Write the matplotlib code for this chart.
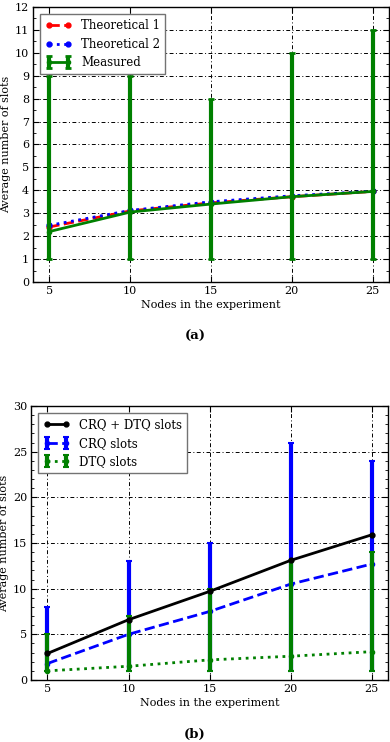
import matplotlib.pyplot as plt
import numpy as np
from matplotlib.ticker import MultipleLocator

plt.rcParams['font.family'] = 'DejaVu Serif'
plt.rcParams['font.size'] = 8

nodes = [5, 10, 15, 20, 25]

# (a) average slots
theo1 = [2.4, 3.1, 3.45, 3.72, 3.95]
theo2 = [2.47, 3.12, 3.5, 3.76, 3.96]
measured = [2.2, 3.05, 3.4, 3.72, 3.95]
measured_min = [1, 1, 1, 1, 1]
measured_max = [9, 9, 8, 10, 11]

# (b) CRQ / DTQ breakdown
total = [2.9, 6.6, 9.7, 13.1, 15.9]
crq = [1.8, 5.0, 7.5, 10.5, 12.7]
crq_min = [1, 1, 1, 1, 1]
crq_max = [8, 13, 15, 26, 24]
dtq = [1.0, 1.5, 2.2, 2.6, 3.1]
dtq_min = [1, 1, 1, 1, 1]
dtq_max = [5, 7, 10, 13, 14]


def yerr(vals, lo, hi):
    vals = np.array(vals)
    return [vals - np.array(lo), np.array(hi) - vals]


def style_axes(ax):
    ax.tick_params(which='both', direction='in', top=True, right=True, pad=3)
    ax.tick_params(which='major', length=4)
    ax.tick_params(which='minor', length=2)
    ax.grid(True, color='black', linestyle=(0, (4, 2.5, 1, 2.5)), linewidth=0.7)
    ax.set_axisbelow(False)
    for s in ax.spines.values():
        s.set_linewidth(1.0)
    ax.set_xlim(4, 26)
    ax.set_xticks(nodes)
    ax.set_xlabel('Nodes in the experiment', labelpad=3)
    ax.set_ylabel('Average number of slots', labelpad=3)


def add_legend(ax):
    leg = ax.legend(loc='upper left', fancybox=False, framealpha=1, numpoints=2,
                    edgecolor='0.45', fontsize=8.5, handlelength=2.2, borderpad=0.45,
                    labelspacing=0.45, borderaxespad=0.6)
    leg.get_frame().set_linewidth(1.0)


fig = plt.figure(figsize=(3.9, 7.42), dpi=100)

ax1 = fig.add_axes([0.085, 0.620, 0.912, 0.3706])
ax1.plot(nodes, theo1, 'r--', marker='o', markersize=3.5, linewidth=2, label='Theoretical 1', zorder=3)
ax1.plot(nodes, theo2, 'b:', marker='o', markersize=3.5, linewidth=2, label='Theoretical 2', zorder=3)
ax1.errorbar(nodes, measured, yerr=yerr(measured, measured_min, measured_max), color='green',
             marker='o', markersize=3, linewidth=2, elinewidth=3, capsize=2, capthick=2,
             label='Measured', zorder=4)
ax1.set_ylim(0, 12)
ax1.yaxis.set_major_locator(MultipleLocator(1))
ax1.yaxis.set_minor_locator(MultipleLocator(0.5))
style_axes(ax1)
add_legend(ax1)
fig.text(0.5, 0.542, '(a)', ha='center', fontweight='bold', fontsize=9.5)

ax2 = fig.add_axes([0.08, 0.0836, 0.915, 0.3692])
ax2.errorbar(nodes, crq, yerr=yerr(crq, crq_min, crq_max), color='blue', linestyle='--',
             marker='o', markersize=3, linewidth=2, elinewidth=3, capsize=2, capthick=1.5,
             label='CRQ slots', zorder=3)
ax2.errorbar(nodes, dtq, yerr=yerr(dtq, dtq_min, dtq_max), color='green', linestyle=':',
             marker='o', markersize=3, linewidth=2, elinewidth=3, capsize=2, capthick=1.5,
             label='DTQ slots', zorder=3.5)
ax2.plot(nodes, total, color='black', marker='o', markersize=3.5, linewidth=2,
         label='CRQ + DTQ slots', zorder=4)
ax2.set_ylim(0, 30)
ax2.yaxis.set_major_locator(MultipleLocator(5))
ax2.yaxis.set_minor_locator(MultipleLocator(1))
style_axes(ax2)
add_legend(ax2)
fig.text(0.5, 0.006, '(b)', ha='center', fontweight='bold', fontsize=9.5)

fig.savefig('out.png', dpi=100)
